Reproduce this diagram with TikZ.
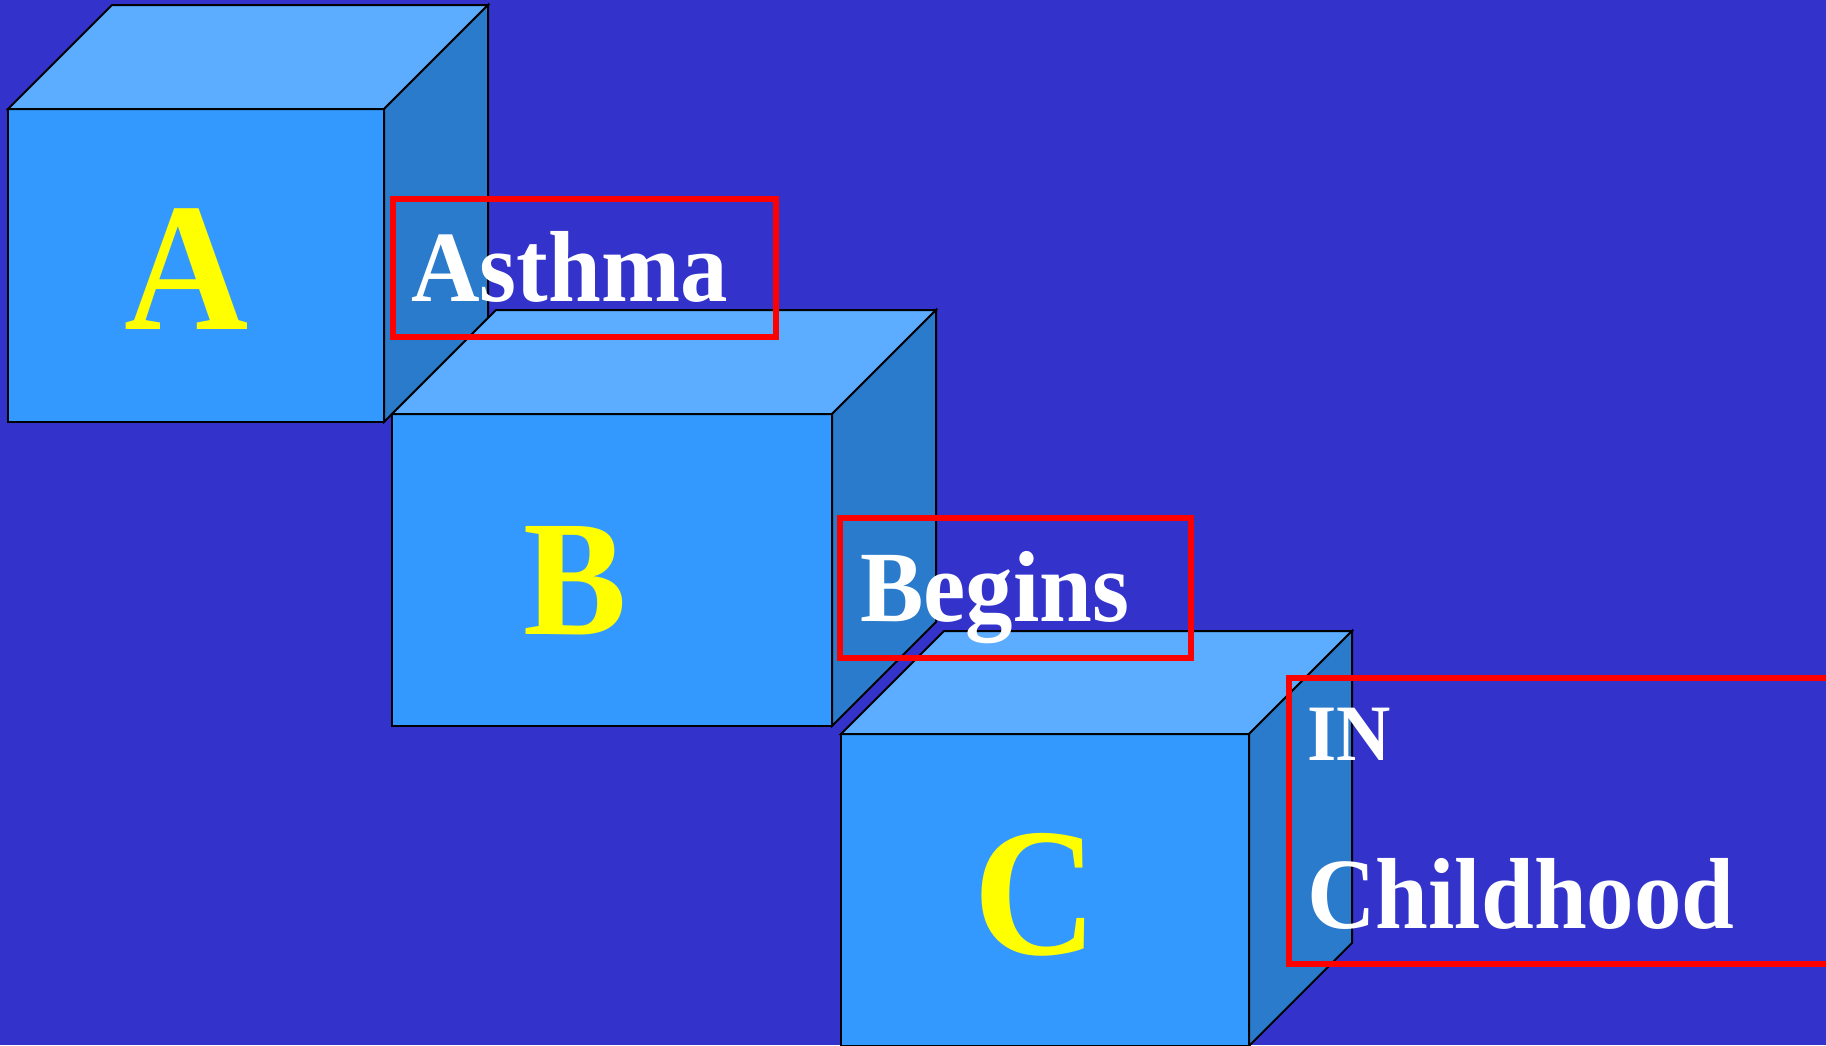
\documentclass[tikz,border=0pt]{standalone}
\usepackage{fontspec}
\setmainfont{Liberation Serif}
\newfontfamily\slidefont[FakeStretch=0.94]{Liberation Serif}

\definecolor{slidebg}{RGB}{51,51,204}
\definecolor{facefront}{RGB}{51,153,255}
\definecolor{facetop}{RGB}{92,172,255}
\definecolor{faceside}{RGB}{42,123,203}
\definecolor{framered}{RGB}{255,0,0}
\definecolor{letteryellow}{RGB}{255,255,0}

% a block: left, top, width, height, depth (y grows downwards)
\newcommand\blockcube[5]{%
  \filldraw[cubeedge, fill=facefront] (#1,#2) rectangle ++(#3,#4);
  \filldraw[cubeedge, fill=facetop] (#1,#2) -- ++(#5,-#5) -- ++(#3,0) -- ++(-#5,#5) -- cycle;
  \filldraw[cubeedge, fill=faceside] ({#1+#3},#2) -- ++(#5,-#5) -- ++(0,#4) -- ++(-#5,#5) -- cycle;
}

\tikzset{
  cubeedge/.style={draw=black, line width=2pt, line join=miter},
  cubeletter/.style={text=letteryellow, inner sep=0pt, anchor=base,
    font=\slidefont\bfseries\fontsize{#1}{#1}\selectfont},
  wordlabel/.style={text=white, inner sep=0pt, anchor=base west,
    font=\slidefont\bfseries\fontsize{#1}{#1}\selectfont},
  wordframe/.style={draw=framered, line width=5.5pt},
}

\begin{document}
\begin{tikzpicture}[x=1pt, y=-1pt]
  \useasboundingbox (0,0) rectangle (1826,1045);
  \clip (0,0) rectangle (1826,1045);
  \fill[slidebg] (0,0) rectangle (1826,1045);

  % the three blocks, back to front
  \blockcube{8}{109}{376}{313}{104}
  \blockcube{392}{414}{440}{312}{104}
  \blockcube{841}{734}{408}{312}{103}

  % letters on the front faces
  \node[cubeletter=183] (letA) at (187,329) {A};
  \node[cubeletter=165] (letB) at (575,634) {B};
  \node[cubeletter=183] (letC) at (1036,954) {C};

  % framed words
  \draw[wordframe] (393,199) rectangle (776,337);
  \node[wordlabel=101] (wAsthma) at (411,301) {Asthma};

  \draw[wordframe] (840,518) rectangle (1191,658);
  \node[wordlabel=101] (wBegins) at (860,621) {Begins};

  \draw[wordframe] (1289,678) rectangle (1860,964);
  \node[wordlabel=80] (wIn) at (1307,760) {IN};
  \node[wordlabel=101] (wChild) at (1307,928) {Childhood};
\end{tikzpicture}
\end{document}
